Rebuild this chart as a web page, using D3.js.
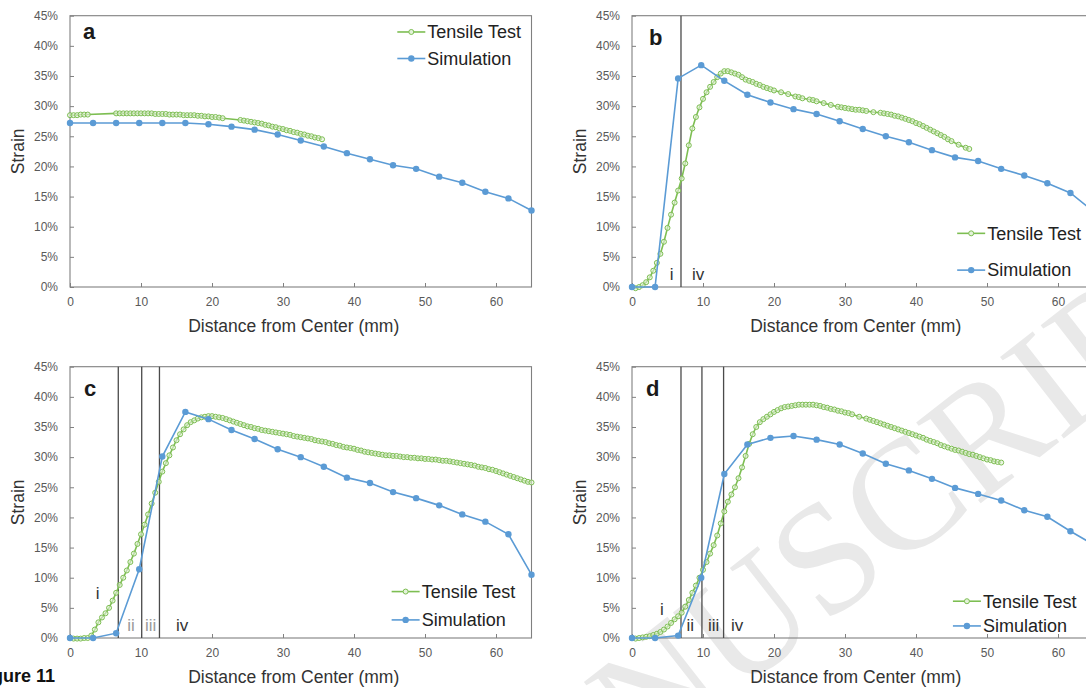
<!DOCTYPE html>
<html><head><meta charset="utf-8">
<script src="https://cdn.jsdelivr.net/npm/d3@7"></script>
<style>
html,body{margin:0;padding:0;background:#fff;}
svg{display:block;}
text{font-family:"Liberation Sans",Arial,sans-serif;}
</style></head>
<body>
<svg id="chart" width="1086" height="688"></svg>
<script>
// ---------- data ----------
const xTicks = [0,10,20,30,40,50,60];
const yTicks = [0,5,10,15,20,25,30,35,40,45];
const seriesNames = ["Tensile Test","Simulation"];
const panelLetters = ["a","b","c","d"];

const simX = [0,3.25,6.5,9.75,13,16.25,19.5,22.75,26,29.25,32.5,35.75,39,42.25,45.5,48.75,52,55.25,58.5,61.75,65];
const simA = [27.2,27.2,27.2,27.2,27.2,27.2,27.0,26.6,26.1,25.3,24.3,23.3,22.2,21.2,20.2,19.6,18.3,17.3,15.8,14.7,12.7];
const simB = [0,0,34.6,36.8,34.2,31.9,30.6,29.5,28.7,27.5,26.2,25.0,24.0,22.7,21.5,20.9,19.6,18.5,17.2,15.6,12.5];
const simC = [0,0,0.8,11.4,30.1,37.5,36.3,34.5,33.0,31.3,30.0,28.4,26.6,25.7,24.2,23.2,22.0,20.5,19.3,17.2,10.5];
const simD = [0,0,0.4,10.0,27.2,32.1,33.2,33.5,32.9,32.1,30.6,28.9,27.8,26.4,24.9,23.9,22.8,21.2,20.1,17.7,15.5];

const tenA = [[0,28.5],[0.5,28.5],[1,28.5],[1.5,28.6],[2,28.6],[2.5,28.6],[6.5,28.8],[7,28.8],[7.5,28.8],[8,28.8],[8.5,28.8],[9,28.8],[9.5,28.8],[10,28.8],[10.5,28.8],[11,28.8],[11.5,28.8],[12,28.7],[12.5,28.7],[13,28.7],[13.5,28.7],[14,28.6],[14.5,28.6],[15,28.6],[15.5,28.6],[16,28.5],[16.5,28.5],[17,28.5],[17.5,28.5],[18,28.4],[18.5,28.4],[19,28.3],[19.5,28.3],[20,28.2],[20.5,28.2],[21,28.1],[21.5,28.0],[24,27.7],[24.5,27.6],[25,27.5],[25.5,27.4],[26,27.3],[26.5,27.2],[27,27.1],[27.5,26.9],[28,26.8],[28.5,26.6],[29,26.5],[29.5,26.3],[30,26.2],[30.5,26.0],[31,25.9],[31.5,25.7],[32,25.6],[32.5,25.4],[33,25.3],[33.5,25.1],[34,25.0],[34.5,24.8],[35,24.7],[35.5,24.5]];
const tenB = [[0,0],[0.5,-0.2],[1,0],[1.5,0.3],[2,0.8],[2.5,1.6],[3,2.7],[3.5,4.0],[4,5.5],[4.5,7.5],[5,9.8],[5.5,12.0],[6,14.0],[6.5,16.0],[7,18.0],[7.5,20.5],[8,23.5],[8.5,26.3],[9,28.2],[9.5,29.8],[10,31.2],[10.5,32.3],[11,33.2],[11.5,34.0],[12,34.8],[12.5,35.4],[13,35.8],[13.5,35.8],[14,35.6],[14.5,35.4],[15,35.2],[15.5,34.8],[16,34.4],[16.5,34.2],[17,34.0],[17.5,33.7],[18,33.5],[18.5,33.2],[19,33.0],[19.5,32.8],[20,32.6],[21,32.3],[22,32.0],[23,31.6],[23.5,31.5],[24,31.3],[25,31.1],[25.5,31.0],[26,30.8],[27,30.5],[28,30.2],[29,29.9],[29.5,29.8],[30,29.7],[30.5,29.6],[31,29.5],[31.5,29.4],[32,29.4],[32.5,29.3],[33,29.2],[34,29.0],[35,28.9],[35.5,28.8],[36,28.7],[36.5,28.6],[37,28.4],[37.5,28.3],[38,28.1],[38.5,27.9],[39,27.7],[39.5,27.5],[40,27.2],[40.5,27.0],[41,26.7],[41.5,26.4],[42,26.1],[42.5,25.8],[43,25.5],[43.5,25.2],[44,24.9],[44.5,24.5],[45,24.2],[46,23.6],[47,23.1],[47.5,22.9]];
const tenC = [[0,0],[0.5,-0.1],[1,-0.1],[1.5,-0.1],[2,0],[2.5,0],[3,0.4],[3.5,1.4],[4,2.6],[4.5,3.4],[5,4.1],[5.5,5.0],[6,6.2],[6.5,7.5],[7,8.8],[7.5,10.0],[8,11.2],[8.5,12.6],[9,14.0],[9.5,15.6],[10,17.2],[10.5,18.8],[11,20.5],[11.5,22.3],[12,24.1],[12.5,25.9],[13,27.6],[13.5,29.0],[14,30.3],[14.5,31.6],[15,32.8],[15.5,33.8],[16,34.6],[16.5,35.3],[17,35.8],[17.5,36.1],[18,36.4],[18.5,36.6],[19,36.7],[19.5,36.8],[20,36.8],[20.5,36.7],[21,36.6],[21.5,36.5],[22,36.3],[22.5,36.1],[23,35.9],[23.5,35.7],[24,35.5],[24.5,35.3],[25,35.1],[25.5,35.0],[26,34.8],[26.5,34.7],[27,34.5],[27.5,34.4],[28,34.3],[28.5,34.2],[29,34.1],[29.5,34.0],[30,33.9],[30.5,33.8],[31,33.7],[31.5,33.5],[32,33.4],[32.5,33.3],[33,33.2],[33.5,33.1],[34,33.0],[34.5,32.8],[35,32.7],[35.5,32.6],[36,32.5],[36.5,32.3],[37,32.2],[37.5,32.0],[38,31.9],[38.5,31.7],[39,31.6],[39.5,31.5],[40,31.4],[40.5,31.2],[41,31.1],[41.5,30.9],[42,30.8],[42.5,30.7],[43,30.6],[43.5,30.5],[44,30.4],[44.5,30.3],[45,30.3],[45.5,30.2],[46,30.2],[46.5,30.1],[47,30.0],[47.5,30.0],[48,29.9],[48.5,29.9],[49,29.8],[49.5,29.8],[50,29.7],[50.5,29.7],[51,29.6],[51.5,29.6],[52,29.5],[52.5,29.4],[53,29.4],[53.5,29.3],[54,29.2],[54.5,29.1],[55,29.0],[55.5,28.9],[56,28.8],[56.5,28.7],[57,28.6],[57.5,28.4],[58,28.3],[58.5,28.2],[59,28.0],[59.5,27.9],[60,27.7],[60.5,27.5],[61,27.3],[61.5,27.1],[62,26.9],[62.5,26.7],[63,26.5],[63.5,26.3],[64,26.1],[64.5,25.9],[65,25.8]];
const tenD = [[0,0],[0.5,-0.1],[1,0],[1.5,0.1],[2,0.2],[2.5,0.3],[3,0.5],[3.5,0.7],[4,1.0],[4.5,1.4],[5,1.9],[5.5,2.5],[6,3.1],[6.5,3.6],[7,4.2],[7.5,5.2],[8,6.3],[8.5,7.5],[9,8.7],[9.5,10.0],[10,11.3],[10.5,12.6],[11,14.0],[11.5,15.4],[12,17.0],[12.5,19.0],[13,21.0],[13.5,22.6],[14,23.8],[14.5,25.0],[15,26.5],[15.5,28.3],[16,30.2],[16.5,32.2],[17,33.8],[17.5,35.0],[18,35.8],[18.5,36.3],[19,36.7],[19.5,37.1],[20,37.5],[20.5,37.8],[21,38.1],[21.5,38.3],[22,38.4],[22.5,38.5],[23,38.6],[23.5,38.7],[24,38.7],[24.5,38.7],[25,38.7],[25.5,38.7],[26,38.6],[26.5,38.5],[27,38.3],[27.5,38.2],[28,38.0],[28.5,37.9],[29,37.7],[29.5,37.6],[30,37.4],[30.5,37.3],[31,37.1],[32,36.7],[33,36.4],[33.5,36.2],[34,36.0],[34.5,35.8],[35,35.6],[35.5,35.4],[36,35.2],[36.5,35.0],[37,34.8],[37.5,34.6],[38,34.4],[38.5,34.2],[39,34.0],[39.5,33.8],[40,33.6],[40.5,33.4],[41,33.2],[41.5,32.9],[42,32.7],[42.5,32.5],[43,32.3],[43.5,32.0],[44,31.8],[44.5,31.6],[45,31.4],[45.5,31.2],[46,31.1],[46.5,30.9],[47,30.7],[47.5,30.5],[48,30.4],[48.5,30.2],[49,30.0],[49.5,29.8],[50,29.6],[50.5,29.5],[51,29.3],[51.5,29.2],[52,29.1]];

// zone divider positions (mm) and zone labels
const zonesB = [6.9];
const zonesC = [6.8,10.1,12.6];
const zonesD = [6.9,9.85,12.9];
const zoneLabelsB = ["i","iv"];
const zoneLabelsC = ["i","ii","iii","iv"];
const zoneLabelsD = ["i","ii","iii","iv"];

// ---------- layout ----------
const W = 461.5, H = 271.3;
const panels = [
  {letter:panelLetters[0], left:70,  top:15.7, sim:simA, ten:tenA, zones:[], zl:[], zlPos:[],
   letterDx:13, letterDy:23, legX:46.1, legY:[42.3,37.9]},
  {letter:panelLetters[1], left:632, top:15.7, sim:simB, ten:tenB, zones:zonesB, zl:zoneLabelsB,
   zlPos:[[5.6,2.2,"#333"],[9.3,2.2,"#333"]], letterDx:17, letterDy:29, legX:45.8, legY:[8.9,2.8]},
  {letter:panelLetters[2], left:70,  top:366.7, sim:simC, ten:tenC, zones:zonesC, zl:zoneLabelsC,
   zlPos:[[3.9,7.5,"#333"],[8.6,2.2,"#9a9a9a"],[11.35,2.2,"#9a9a9a"],[15.8,2.2,"#333"]],
   letterDx:14, letterDy:29, legX:45.3, legY:[7.7,3.0]},
  {letter:panelLetters[3], left:632, top:366.7, sim:simD, ten:tenD, zones:zonesD, zl:zoneLabelsD,
   zlPos:[[4.2,4.8,"#333"],[8.2,2.2,"#333"],[11.5,2.2,"#333"],[14.8,2.2,"#333"]],
   letterDx:14, letterDy:29, legX:45.2, legY:[6.1,2.0]}
];

const GREEN = "#7dbe52", BLUE = "#5b9bd5";
const svg = d3.select("#chart");

// watermark (background)
const wm = svg.append("g").attr("transform","translate(734,696) rotate(-38)")
  .attr("fill","#e9e9e9").style("font-size","158px");
wm.append("text").attr("x",0).attr("y",0).attr("text-anchor","end").style("font-family","'Liberation Serif',serif").text("MAN");
wm.append("text").attr("x",0).attr("y",0).style("font-family","'Liberation Serif',serif").text("USCRIPT");

panels.forEach(p => {
  const g = svg.append("g");
  const x = d3.scaleLinear().domain([0,65]).range([p.left, p.left+W]);
  const y = d3.scaleLinear().domain([0,45]).range([p.top+H, p.top]);

  // border
  g.append("rect").attr("x",p.left).attr("y",p.top).attr("width",W).attr("height",H)
    .attr("fill","none").attr("stroke","#808080").attr("stroke-width",1.1);

  // axes
  const ax = g.append("g").attr("transform",`translate(0,${p.top+H})`)
    .call(d3.axisBottom(x).tickValues(xTicks).tickSize(-4).tickPadding(10).tickFormat(d3.format("d")));
  ax.select(".domain").remove();
  ax.selectAll("line").attr("stroke","#808080");
  ax.selectAll("text").attr("fill","#595959").style("font-size","12px");

  const ay = g.append("g").attr("transform",`translate(${p.left},0)`)
    .call(d3.axisLeft(y).tickValues(yTicks).tickSize(-4).tickPadding(12).tickFormat(d=>d+"%"));
  ay.select(".domain").remove();
  ay.selectAll("line").attr("stroke","#808080");
  ay.selectAll("text").attr("fill","#595959").style("font-size","12px");

  // axis titles
  g.append("text").attr("x",p.left+W/2 - 7).attr("y",p.top+H+45).attr("text-anchor","middle")
    .attr("fill","#333").style("font-size","17.5px").text("Distance from Center (mm)");
  g.append("text").attr("transform",`translate(${p.left-46},${p.top+H/2}) rotate(-90)`)
    .attr("text-anchor","middle").attr("fill","#333").style("font-size","17.5px").text("Strain");

  // zone lines
  p.zones.forEach(z => {
    g.append("line").attr("x1",x(z)).attr("x2",x(z)).attr("y1",p.top).attr("y2",p.top+H)
      .attr("stroke","#4a4a4a").attr("stroke-width",1.3);
  });
  p.zl.forEach((t,i) => {
    const pos = p.zlPos[i];
    g.append("text").attr("x",x(pos[0])).attr("y",y(pos[1])).attr("dy","0.35em")
      .attr("text-anchor","middle").attr("fill",pos[2]).style("font-size","17px").text(t);
  });

  // panel letter
  g.append("text").attr("x",p.left+p.letterDx).attr("y",p.top+p.letterDy)
    .attr("fill","#1a1a1a").style("font-size","22px").style("font-weight","bold").text(p.letter);

  // tensile test line
  const line = d3.line().x(d=>x(d[0])).y(d=>y(d[1]));
  g.append("path").datum(p.ten).attr("d",line).attr("fill","none")
    .attr("stroke",GREEN).attr("stroke-width",1.6);
  g.selectAll(".tm").data(p.ten).enter().append("circle")
    .attr("cx",d=>x(d[0])).attr("cy",d=>y(d[1])).attr("r",2.5)
    .attr("fill","#e4f2da").attr("fill-opacity",0.6).attr("stroke",GREEN).attr("stroke-width",1);

  // simulation line
  const simPts = simX.map((v,i)=>[v,p.sim[i]]);
  g.append("path").datum(simPts).attr("d",line).attr("fill","none")
    .attr("stroke",BLUE).attr("stroke-width",1.6);
  g.selectAll(".sm").data(simPts).enter().append("circle")
    .attr("cx",d=>x(d[0])).attr("cy",d=>y(d[1])).attr("r",3.2).attr("fill",BLUE);

  // legend
  const lx0 = x(p.legX), lx1 = lx0 + 28;
  seriesNames.forEach((name,i) => {
    const ly = y(p.legY[i]);
    const col = i===0 ? GREEN : BLUE;
    g.append("line").attr("x1",lx0).attr("x2",lx1).attr("y1",ly).attr("y2",ly)
      .attr("stroke",col).attr("stroke-width",1.6);
    if (i===0) {
      g.append("circle").attr("cx",(lx0+lx1)/2).attr("cy",ly).attr("r",2.5)
        .attr("fill","#e4f2da").attr("stroke",GREEN).attr("stroke-width",1);
    } else {
      g.append("circle").attr("cx",(lx0+lx1)/2).attr("cy",ly).attr("r",3.2).attr("fill",BLUE);
    }
    g.append("text").attr("x",lx1+2).attr("y",ly).attr("dy","0.35em")
      .attr("fill","#222").style("font-size","18px").text(name);
  });
});

// figure caption fragment
svg.append("text").attr("x",55).attr("y",682).attr("text-anchor","end")
  .attr("fill","#111").style("font-size","18px").style("font-weight","bold").text("Figure 11");
</script>
</body></html>
